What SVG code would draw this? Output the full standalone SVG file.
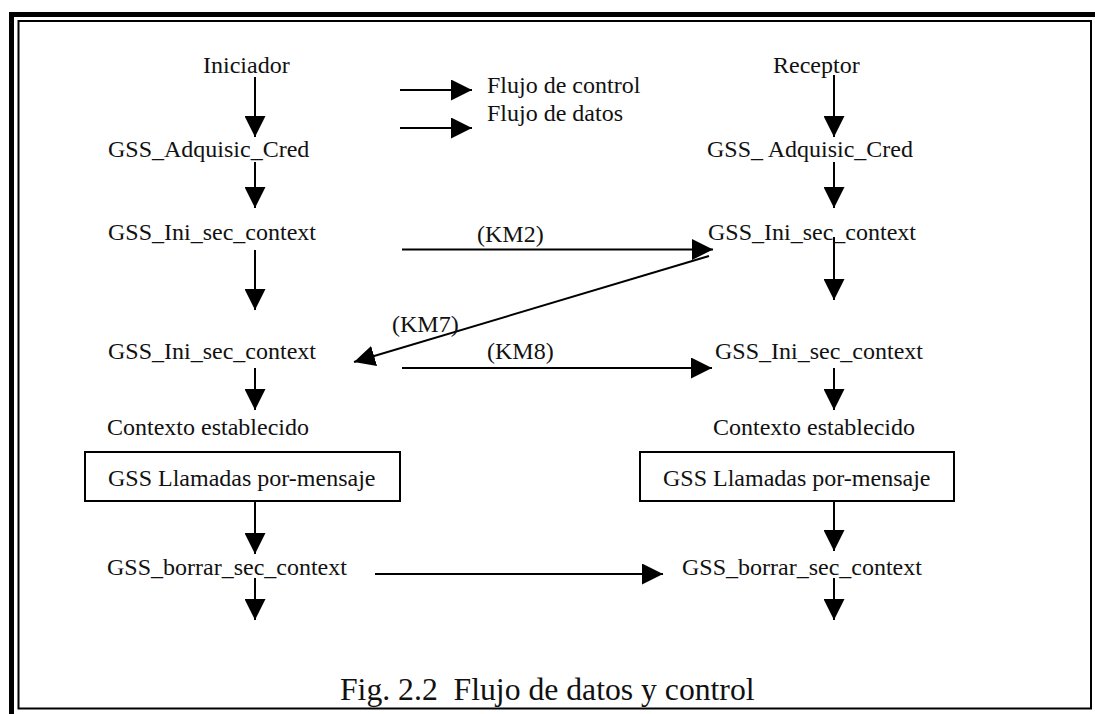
<svg xmlns="http://www.w3.org/2000/svg" width="1095" height="714" viewBox="0 0 1095 714">
  <style>
    .t { font-family: "Liberation Serif", "Times New Roman", serif; font-size: 24px; fill: #111; }
    .cap { font-family: "Liberation Serif", "Times New Roman", serif; font-size: 31.7px; fill: #111; }
    .ln { stroke: #000; stroke-width: 2; fill: none; }
    .frame { stroke: #000; fill: none; }
    .box { stroke: #000; stroke-width: 2; fill: #fff; }
  </style>
  <defs>
    <marker id="head" markerUnits="userSpaceOnUse" markerWidth="21" markerHeight="21" refX="21" refY="10.5" orient="auto">
      <path d="M0,0 L21,10.5 L0,21 Z" fill="#000"/>
    </marker>
  </defs>

  <rect width="1095" height="714" fill="#fff"/>

  <!-- page frame: heavy top/left rule and thin inner border -->
  <g id="frame">
    <line class="frame" x1="9" y1="14.5" x2="1095" y2="14.5" stroke-width="5"/>
    <line class="frame" x1="11.5" y1="12" x2="11.5" y2="714" stroke-width="5"/>
    <rect class="frame" x="18.5" y="21" width="1072.5" height="687.5" stroke-width="2"/>
  </g>

  <!-- connectors -->
  <g id="connectors">
    <!-- initiator column -->
    <line class="ln" x1="255" y1="77" x2="255" y2="137" marker-end="url(#head)"/>
    <line class="ln" x1="255" y1="162" x2="255" y2="208" marker-end="url(#head)"/>
    <line class="ln" x1="255" y1="250" x2="255" y2="310" marker-end="url(#head)"/>
    <line class="ln" x1="255" y1="368" x2="255" y2="410" marker-end="url(#head)"/>
    <line class="ln" x1="255" y1="501" x2="255" y2="554" marker-end="url(#head)"/>
    <line class="ln" x1="255" y1="578" x2="255" y2="620" marker-end="url(#head)"/>
    <!-- receptor column -->
    <line class="ln" x1="834" y1="75" x2="834" y2="137" marker-end="url(#head)"/>
    <line class="ln" x1="834" y1="162" x2="834" y2="208" marker-end="url(#head)"/>
    <line class="ln" x1="834" y1="237" x2="834" y2="300" marker-end="url(#head)"/>
    <line class="ln" x1="834" y1="368" x2="834" y2="410" marker-end="url(#head)"/>
    <line class="ln" x1="834" y1="501" x2="834" y2="551" marker-end="url(#head)"/>
    <line class="ln" x1="834" y1="578" x2="834" y2="620" marker-end="url(#head)"/>
    <!-- legend -->
    <line class="ln" x1="400" y1="90" x2="472" y2="90" marker-end="url(#head)"/>
    <line class="ln" x1="400" y1="128" x2="472" y2="128" marker-end="url(#head)"/>
    <!-- message exchange -->
    <line class="ln" x1="402" y1="249.5" x2="713" y2="249.5" marker-end="url(#head)"/>
    <line class="ln" x1="709" y1="256" x2="354" y2="362" marker-end="url(#head)"/>
    <line class="ln" x1="402" y1="368" x2="712" y2="368" marker-end="url(#head)"/>
    <line class="ln" x1="375" y1="574" x2="663" y2="574" marker-end="url(#head)"/>
  </g>

  <!-- legend labels -->
  <g id="legend">
    <text class="t" x="487" y="93">Flujo de control</text>
    <text class="t" x="487" y="121">Flujo de datos</text>
  </g>

  <!-- message labels -->
  <g id="labels">
    <text class="t" x="477" y="242">(KM2)</text>
    <text class="t" x="392" y="332">(KM7)</text>
    <text class="t" x="487" y="359">(KM8)</text>
  </g>

  <!-- initiator side -->
  <g id="iniciador"><text class="t" x="203" y="73">Iniciador</text></g>
  <g id="adq-ini"><text class="t" x="108" y="157">GSS_Adquisic_Cred</text></g>
  <g id="ctx1-ini"><text class="t" x="108" y="240">GSS_Ini_sec_context</text></g>
  <g id="ctx2-ini"><text class="t" x="108" y="359">GSS_Ini_sec_context</text></g>
  <g id="est-ini"><text class="t" x="107" y="435">Contexto establecido</text></g>
  <g id="msg-ini">
    <rect class="box" x="85" y="452" width="315" height="49"/>
    <text class="t" x="108" y="486">GSS Llamadas por-mensaje</text>
  </g>
  <g id="del-ini"><text class="t" x="107" y="575">GSS_borrar_sec_context</text></g>

  <!-- receptor side -->
  <g id="receptor"><text class="t" x="773" y="73">Receptor</text></g>
  <g id="adq-rec"><text class="t" x="707" y="157">GSS_ Adquisic_Cred</text></g>
  <g id="ctx1-rec"><text class="t" x="708" y="240">GSS_Ini_sec_context</text></g>
  <g id="ctx2-rec"><text class="t" x="715" y="359">GSS_Ini_sec_context</text></g>
  <g id="est-rec"><text class="t" x="713" y="435">Contexto establecido</text></g>
  <g id="msg-rec">
    <rect class="box" x="640" y="452" width="314" height="49"/>
    <text class="t" x="663" y="486">GSS Llamadas por-mensaje</text>
  </g>
  <g id="del-rec"><text class="t" x="682" y="575">GSS_borrar_sec_context</text></g>

  <!-- caption -->
  <g id="caption"><text class="cap" x="340" y="700" xml:space="preserve">Fig. 2.2  Flujo de datos y control</text></g>
</svg>
